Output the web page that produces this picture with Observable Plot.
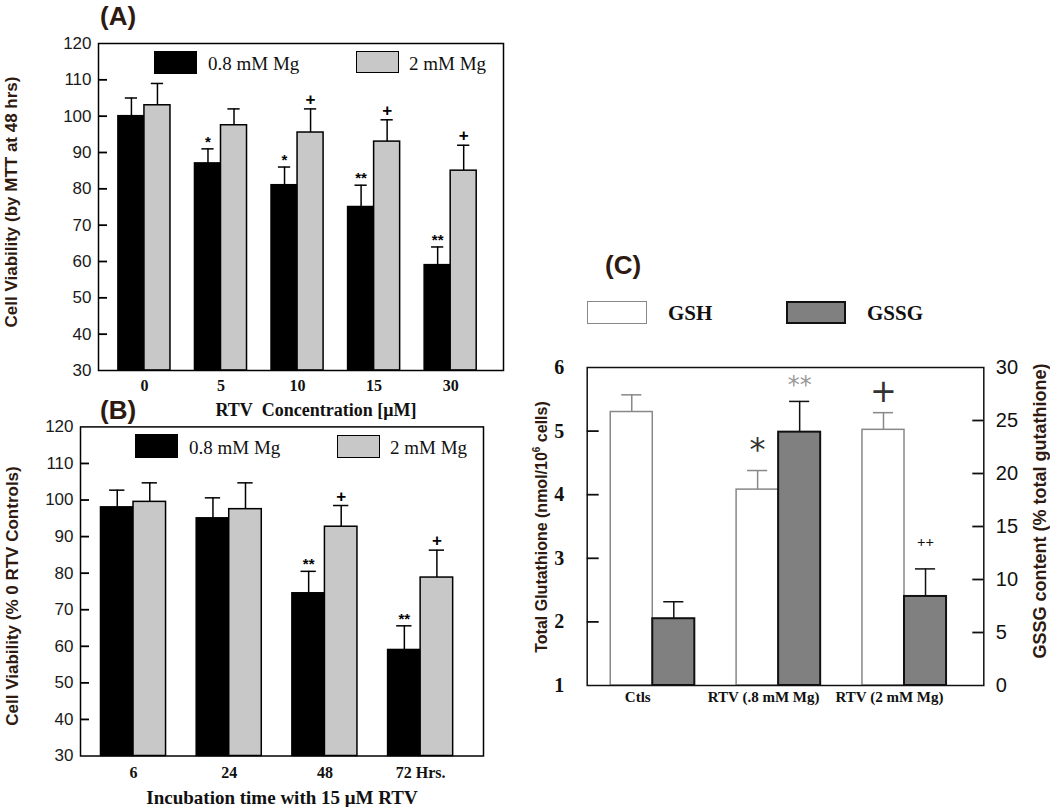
<!DOCTYPE html>
<html><head><meta charset="utf-8">
<script src="https://cdn.jsdelivr.net/npm/d3@7"></script>
<script src="https://cdn.jsdelivr.net/npm/@observablehq/plot@0.6"></script>
<style>
body{margin:0;background:#fff;}
#wrap{position:relative;width:1050px;height:807px;overflow:hidden;background:#fff;}
.abs{position:absolute;white-space:nowrap;line-height:1;}
.c{transform:translate(-50%,-50%);}
.l{transform:translate(0,-50%);}
.rot{transform:translate(-50%,-50%) rotate(-90deg);}
.ser{font-family:"Liberation Serif","Times New Roman",serif;}
.san{font-family:"Liberation Sans",Arial,sans-serif;}
.box{position:absolute;box-sizing:border-box;}
.ttl{color:#2e1a10;font-weight:bold;}
</style></head><body><div id="wrap"></div>
<script>
// ---------- Panel A data ----------
const catsA = ["0", "5", "10", "15", "30"];
const lowMgA = [100, 87, 81, 75, 59];
const lowMgErrA = [5, 4, 5, 6, 5];
const highMgA = [103, 97.5, 95.5, 93, 85];
const highMgErrA = [6, 4.5, 6.5, 6, 7];
const markLowA = ["", "*", "*", "**", "**"];
const markHighA = ["", "", "+", "+", "+"];
// ---------- Panel B data ----------
const catsB = ["6", "24", "48", "72 Hrs."];
const lowMgB = [98, 95, 74.5, 59];
const lowMgErrB = [4.7, 5.6, 6, 6.6];
const highMgB = [99.5, 97.5, 92.7, 78.8];
const highMgErrB = [5.2, 7.2, 5.8, 7.5];
const markLowB = ["", "", "**", "**"];
const markHighB = ["", "", "+", "+"];
const yTicksAB = [30, 40, 50, 60, 70, 80, 90, 100, 110, 120];
// ---------- Panel C data ----------
const catsC = ["Ctls", "RTV (.8 mM Mg)", "RTV (2 mM Mg)"];
const gsh = [5.3, 4.08, 5.02];
const gshErr = [0.27, 0.3, 0.27];
const gssg = [6.3, 23.9, 8.4];
const gssgErr = [1.6, 2.9, 2.6];
const markGsh = ["", "*", "+"];
const markGssg = ["", "**", "++"];
const leftTicksC = [1, 2, 3, 4, 5, 6];
const rightTicksC = [0, 5, 10, 15, 20, 25, 30];

const wrap = document.getElementById("wrap");
function place(el, left, top) {
  el.style.position = "absolute";
  el.style.left = left + "px";
  el.style.top = top + "px";
  wrap.appendChild(el);
}
function html(str) {
  const d = document.createElement("div");
  d.innerHTML = str;
  while (d.firstChild) wrap.appendChild(d.firstChild);
}
// inward tick marks from the frame edge (length converted to x-domain units)
function inTicks(ticks, dom, plotW, len, side, color) {
  const u = len * (dom[1] - dom[0]) / plotW;
  const rows = ticks.map(t => ({t, a: side === "left" ? dom[0] : dom[1] - u, b: side === "left" ? dom[0] + u : dom[1]}));
  return Plot.ruleY(rows, {y: "t", x1: "a", x2: "b", stroke: color, strokeWidth: 1.8});
}

function barPanel(o) {
  const rows = [];
  o.cats.forEach((c, i) => {
    rows.push({i, s: 0, v: o.low[i], e: o.lowErr[i], m: o.markLow[i]});
    rows.push({i, s: 1, v: o.high[i], e: o.highErr[i], m: o.markHigh[i]});
  });
  const w = o.w, cap = o.cap;
  const cx = d => d.i + (d.s === 0 ? -w / 2 : w / 2);
  const ymin = o.ticks[0], ymax = o.ticks[o.ticks.length - 1];
  const low = rows.filter(d => d.s === 0), high = rows.filter(d => d.s === 1);
  const plotW = o.width - o.ml - o.mr;
  return Plot.plot({
    width: o.width, height: o.height,
    marginLeft: o.ml, marginRight: o.mr, marginTop: o.mt, marginBottom: o.mb,
    x: {domain: o.xDomain},
    y: {domain: [ymin, ymax]},
    marks: [
      Plot.ruleX(rows, {x: cx, y1: "v", y2: d => d.v + d.e, stroke: "#000", strokeWidth: 1.5}),
      Plot.ruleY(rows, {y: d => d.v + d.e, x1: d => cx(d) - cap, x2: d => cx(d) + cap, stroke: "#000", strokeWidth: 1.5}),
      Plot.rect(low, {x1: d => d.i - w, x2: d => d.i, y1: ymin, y2: "v", fill: "#000", stroke: "#000", strokeWidth: 1.5}),
      Plot.rect(high, {x1: d => d.i, x2: d => d.i + w, y1: ymin, y2: "v", fill: "#c8c8c8", stroke: "#000", strokeWidth: 1.5}),
      Plot.text(rows.filter(d => d.m.includes("*")), {x: cx, y: d => d.v + d.e, text: "m", lineAnchor: "bottom", dy: -2,
        fontFamily: "Liberation Sans", fontWeight: "bold", fontSize: 15, fill: "#000"}),
      Plot.text(rows.filter(d => d.m.includes("+")), {x: cx, y: d => d.v + d.e, text: "m", lineAnchor: "bottom", dy: -4,
        fontFamily: "Liberation Sans", fontWeight: "bold", fontSize: 17, fill: "#000"}),
      inTicks(o.ticks.slice(1, -1), o.xDomain, plotW, 9, "left", "#000"),
      Plot.axisY({ticks: o.ticks, tickSize: 0, tickPadding: 7, label: null,
        fontFamily: "Liberation Sans", fontSize: 17, fill: "#1a1a1a"}),
      Plot.axisX({ticks: o.cats.map((_, i) => i), tickFormat: i => o.cats[i], tickSize: 0, tickPadding: o.xpad, label: null,
        fontFamily: "Liberation Serif", fontWeight: "bold", fontSize: 16, fill: "#111"}),
      Plot.frame({stroke: "#000", strokeWidth: 1.5})
    ]
  });
}

// Panel A
const svgA = barPanel({cats: catsA, low: lowMgA, lowErr: lowMgErrA, high: highMgA, highErr: highMgErrA,
  markLow: markLowA, markHigh: markHighA, ticks: yTicksAB, xDomain: [-0.6, 4.69], w: 0.34, cap: 0.08,
  width: 530, height: 400, ml: 98, mr: 27, mt: 43, mb: 30, xpad: 9});
place(svgA, 0, 0);

// Panel B
const svgB = barPanel({cats: catsB, low: lowMgB, lowErr: lowMgErrB, high: highMgB, highErr: highMgErrB,
  markLow: markLowB, markHigh: markHighB, ticks: yTicksAB, xDomain: [-0.554, 3.657], w: 0.34, cap: 0.08,
  width: 530, height: 407, ml: 80, mr: 47, mt: 26.4, mb: 51.5, xpad: 11});
place(svgB, 0, 400);

// Panel C
const rowsC = catsC.map((c, i) => ({i, g: gsh[i], ge: gshErr[i], s: 1 + gssg[i] / 6, se: gssgErr[i] / 6, mg: markGsh[i], ms: markGssg[i]}));
const wC = 0.334, capC = 0.08;
const domC = [-0.521, 2.63];
const plotWC = 520 - 56.7 - 66.7;
const svgC = Plot.plot({
  width: 520, height: 470,
  marginLeft: 56.7, marginRight: 66.7, marginTop: 117, marginBottom: 35,
  x: {domain: domC},
  y: {domain: [1, 6]},
  marks: [
    Plot.ruleX(rowsC, {x: d => d.i - wC / 2, y1: "g", y2: d => d.g + d.ge, stroke: "#888", strokeWidth: 1.5}),
    Plot.ruleY(rowsC, {y: d => d.g + d.ge, x1: d => d.i - wC / 2 - capC, x2: d => d.i - wC / 2 + capC, stroke: "#888", strokeWidth: 1.5}),
    Plot.ruleX(rowsC, {x: d => d.i + wC / 2, y1: "s", y2: d => d.s + d.se, stroke: "#111", strokeWidth: 1.5}),
    Plot.ruleY(rowsC, {y: d => d.s + d.se, x1: d => d.i + wC / 2 - capC, x2: d => d.i + wC / 2 + capC, stroke: "#111", strokeWidth: 1.5}),
    Plot.rect(rowsC, {x1: d => d.i - wC, x2: d => d.i, y1: leftTicksC[0], y2: "g", fill: "#fff", stroke: "#888", strokeWidth: 1.5}),
    Plot.rect(rowsC, {x1: d => d.i, x2: d => d.i + wC, y1: leftTicksC[0], y2: "s", fill: "#808080", stroke: "#111", strokeWidth: 2}),
    Plot.text(rowsC.filter(d => d.mg), {x: d => d.i - wC / 2, y: d => d.g + d.ge, text: "mg", dy: -21,
      fontFamily: "DejaVu Sans", fontSize: 32, fill: "#333"}),
    Plot.text(rowsC.filter(d => d.ms === "**"), {x: d => d.i + wC / 2, y: d => d.s + d.se, text: "ms", dy: -16,
      fontFamily: "DejaVu Sans", fontSize: 24, fill: "#999"}),
    Plot.text(rowsC.filter(d => d.ms === "++"), {x: d => d.i + wC / 2, y: d => d.s + d.se, text: "ms", dy: -27,
      fontFamily: "Liberation Serif", fontWeight: "bold", fontSize: 15, fill: "#111"}),
    inTicks(leftTicksC.slice(1, -1), domC, plotWC, 12, "left", "#111"),
    inTicks(rightTicksC.slice(1, -1).map(v => 1 + v / 6), domC, plotWC, 11, "right", "#111"),
    Plot.axisY({ticks: leftTicksC, tickSize: 0, tickPadding: 23, tickFormat: d => String(d), label: null,
      fontFamily: "Liberation Serif", fontWeight: "bold", fontSize: 20, fill: "#111"}),
    Plot.axisY({anchor: "right", ticks: rightTicksC.map(v => 1 + v / 6), tickFormat: y => String(Math.round((y - 1) * 6)),
      tickSize: 0, tickPadding: 12, label: null, fontFamily: "Liberation Sans", fontSize: 20, fill: "#111"}),
    Plot.axisX({ticks: catsC.map((_, i) => i), tickFormat: i => catsC[i], tickSize: 0, tickPadding: 6, dx: -15, label: null,
      fontFamily: "Liberation Serif", fontWeight: "bold", fontSize: 15, fill: "#111"}),
    Plot.frame({stroke: "#111", strokeWidth: 1.5})
  ]
});
place(svgC, 530, 250);

// Titles, legends, axis titles
html(`
<div class="abs san ttl" style="left:100px;top:3px;font-size:26px;">(A)</div>
<div class="abs san ttl" style="left:100px;top:397px;font-size:26px;">(B)</div>
<div class="abs san ttl" style="left:605px;top:252px;font-size:26px;">(C)</div>

<div class="abs ser c" style="left:316px;top:410px;font-size:18px;font-weight:bold;color:#111;">RTV&nbsp; Concentration [μM]</div>
<div class="abs ser c" style="left:282px;top:797px;font-size:19px;font-weight:bold;color:#111;">Incubation time with 15 μM RTV</div>

<div class="abs san rot ttl" style="left:11px;top:202px;font-size:17px;">Cell Viability (by MTT at 48 hrs)</div>
<div class="abs san rot ttl" style="left:12px;top:596px;font-size:17px;">Cell Viability (% 0 RTV Controls)</div>
<div class="abs san rot ttl" style="left:541px;top:527px;font-size:16px;">Total Glutathione (nmol/10<sup style="font-size:10px;">6</sup> cells)</div>
<div class="abs san rot ttl" style="left:1040px;top:511px;font-size:18px;">GSSG content (% total gutathione)</div>

<div class="box" style="left:154px;top:51px;width:43px;height:23px;background:#000;"></div>
<div class="abs ser l" style="left:208px;top:63px;font-size:19px;color:#111;">0.8 mM Mg</div>
<div class="box" style="left:356px;top:51px;width:43px;height:22px;background:#c8c8c8;border:1.5px solid #000;"></div>
<div class="abs ser l" style="left:409px;top:63px;font-size:19px;color:#111;">2 mM Mg</div>

<div class="box" style="left:135px;top:434px;width:43px;height:24px;background:#000;"></div>
<div class="abs ser l" style="left:189px;top:447px;font-size:19px;color:#111;">0.8 mM Mg</div>
<div class="box" style="left:337px;top:435px;width:43px;height:23px;background:#c8c8c8;border:1.5px solid #000;"></div>
<div class="abs ser l" style="left:390px;top:447px;font-size:19px;color:#111;">2 mM Mg</div>

<div class="box" style="left:587px;top:301px;width:60px;height:23px;background:#fff;border:1.5px solid #888;"></div>
<div class="abs ser l" style="left:668px;top:313px;font-size:21px;font-weight:bold;color:#111;">GSH</div>
<div class="box" style="left:786px;top:301px;width:60px;height:23px;background:#808080;border:2px solid #111;"></div>
<div class="abs ser l" style="left:867px;top:313px;font-size:21px;font-weight:bold;color:#111;">GSSG</div>
`);
</script>
</body></html>
